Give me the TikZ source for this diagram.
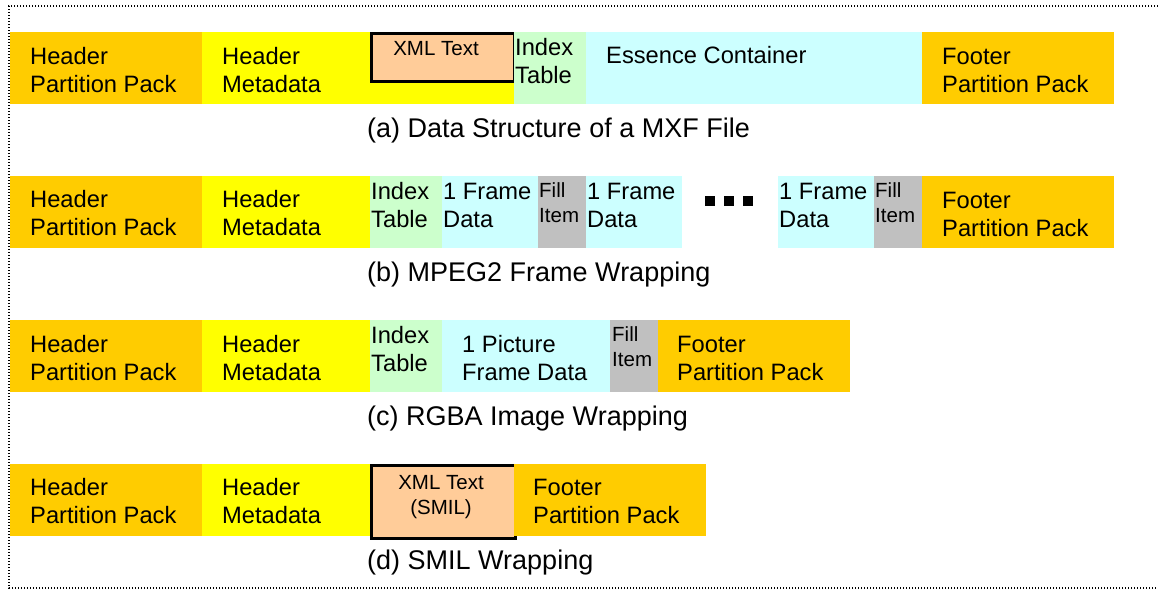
\documentclass[tikz,border=0pt]{standalone}
\usepackage{fontspec}
\setmainfont{Liberation Sans}

\definecolor{packclr}{HTML}{FFCC00}
\definecolor{metaclr}{HTML}{FFFF00}
\definecolor{indexclr}{HTML}{CCFFCC}
\definecolor{essclr}{HTML}{CCFFFF}
\definecolor{fillclr}{HTML}{C0C0C0}
\definecolor{xmlclr}{HTML}{FFCC99}

\begin{document}
\begin{tikzpicture}
[
x=1pt,y=-1pt,
part/.style 2 args={fill=#1,draw=none,inner sep=0pt,minimum width=#2,minimum height=72pt,anchor=north west},
xmlbox/.style 2 args={fill=xmlclr,draw=black,line width=2.5pt,inner sep=0pt,minimum width=#1,minimum height=#2,anchor=north west},
txt/.style={font=\fontsize{23.7}{28}\selectfont,align=left,inner sep=0pt,anchor=base west},
smalltxt/.style={font=\fontsize{20.5}{25}\selectfont,align=left,inner sep=0pt,anchor=base west},
captxt/.style={font=\fontsize{27}{32}\selectfont,inner sep=0pt,anchor=base west},
dot/.style={fill=black,inner sep=0pt,minimum size=10pt},
]
\useasboundingbox (0,0) rectangle (1158,590);

%Frame
\coordinate (ftr) at (1158,6);
\coordinate (ftl) at (9,6);
\coordinate (fbl) at (9,588);
\coordinate (fbr) at (1158,588);
\draw[line width=1.2pt,dash pattern=on 1.2pt off 1.8pt] (ftr) -- (ftl) -- (fbl) -- (fbr);

%(a) Data structure (text nodes sit on their last baseline)
\node[part={packclr}{192pt}] (hpa) at (10,32) {};
\node[part={metaclr}{312pt}] (hma) at (202,32) {};
\node[xmlbox={143pt}{48pt}] (xmla) at (370,32) {};
\node[part={indexclr}{72pt}] (ita) at (514,32) {};
\node[part={essclr}{336pt}] (eca) at (586,32) {};
\node[part={packclr}{192pt}] (fpa) at (922,32) {};
\node[txt] (hpatxt) at (30,92) {Header\\Partition Pack};
\node[txt] (hmatxt) at (222,92) {Header\\Metadata};
\node[smalltxt,anchor=base] (xmlatxt) at (436,55) {XML Text};
\node[txt] (itatxt) at (515,83) {Index\\Table};
\node[txt] (ecatxt) at (606,63) {Essence Container};
\node[txt] (fpatxt) at (942,92) {Footer\\Partition Pack};
\node[captxt] (capa) at (367,137) {(a) Data Structure of a MXF File};

%(b) MPEG2 frame wrapping
\node[part={packclr}{192pt}] (hpb) at (10,176) {};
\node[part={metaclr}{168pt}] (hmb) at (202,176) {};
\node[part={indexclr}{72pt}] (itb) at (370,176) {};
\node[part={essclr}{96pt}] (fdb1) at (442,176) {};
\node[part={fillclr}{48pt}] (fib1) at (538,176) {};
\node[part={essclr}{96pt}] (fdb2) at (586,176) {};
\node[dot] (dotb1) at (710,201) {};
\node[dot] (dotb2) at (729,201) {};
\node[dot] (dotb3) at (748,201) {};
\node[part={essclr}{96pt}] (fdb3) at (778,176) {};
\node[part={fillclr}{48pt}] (fib2) at (874,176) {};
\node[part={packclr}{192pt}] (fpb) at (922,176) {};
\node[txt] (hpbtxt) at (30,235) {Header\\Partition Pack};
\node[txt] (hmbtxt) at (222,235) {Header\\Metadata};
\node[txt] (itbtxt) at (371,227) {Index\\Table};
\node[txt] (fdb1txt) at (443,227) {1 Frame\\Data};
\node[smalltxt] (fib1txt) at (539,222) {Fill\\Item};
\node[txt] (fdb2txt) at (587,227) {1 Frame\\Data};
\node[txt] (fdb3txt) at (779,227) {1 Frame\\Data};
\node[smalltxt] (fib2txt) at (875,222) {Fill\\Item};
\node[txt] (fpbtxt) at (942,236) {Footer\\Partition Pack};
\node[captxt] (capb) at (367,281) {(b) MPEG2 Frame Wrapping};

%(c) RGBA image wrapping
\node[part={packclr}{192pt}] (hpc) at (10,320) {};
\node[part={metaclr}{168pt}] (hmc) at (202,320) {};
\node[part={indexclr}{72pt}] (itc) at (370,320) {};
\node[part={essclr}{168pt}] (pfc) at (442,320) {};
\node[part={fillclr}{48pt}] (fic) at (610,320) {};
\node[part={packclr}{192pt}] (fpc) at (658,320) {};
\node[txt] (hpctxt) at (30,380) {Header\\Partition Pack};
\node[txt] (hmctxt) at (222,380) {Header\\Metadata};
\node[txt] (itctxt) at (371,371) {Index\\Table};
\node[txt] (pfctxt) at (462,380) {1 Picture\\Frame Data};
\node[smalltxt] (fictxt) at (612,366) {Fill\\Item};
\node[txt] (fpctxt) at (677,380) {Footer\\Partition Pack};
\node[captxt] (capc) at (367,425) {(c) RGBA Image Wrapping};

%(d) SMIL wrapping
\node[part={packclr}{192pt}] (hpd) at (10,464) {};
\node[part={metaclr}{168pt}] (hmd) at (202,464) {};
\node[xmlbox={144pt}{73pt}] (xmld) at (370,464) {};
\node[part={packclr}{192pt}] (fpd) at (514,464) {};
\node[txt] (hpdtxt) at (30,523) {Header\\Partition Pack};
\node[txt] (hmdtxt) at (222,523) {Header\\Metadata};
\node[smalltxt,align=center,anchor=base] (xmldtxt) at (441,514) {XML Text\\(SMIL)};
\node[txt] (fpdtxt) at (533,523) {Footer\\Partition Pack};
\node[captxt] (capd) at (367,569) {(d) SMIL Wrapping};
\end{tikzpicture}
\end{document}
